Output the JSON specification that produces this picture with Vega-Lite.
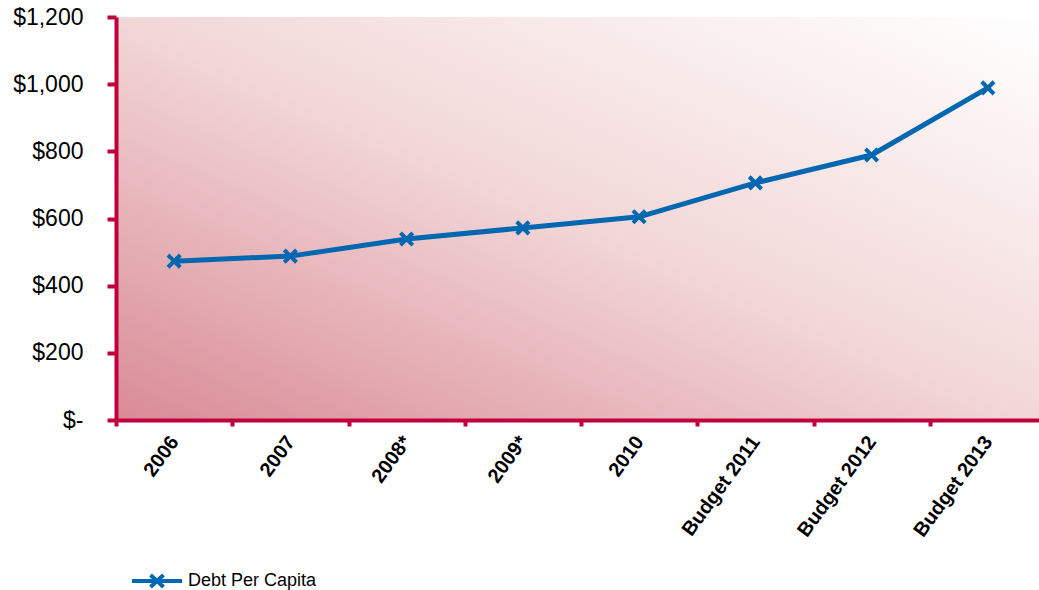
{
  "$schema": "https://vega.github.io/schema/vega-lite/v6.json",
  "width": 923,
  "height": 403,
  "autosize": {"type": "none"},
  "padding": {"left": 116, "top": 17, "right": 0, "bottom": 170},
  "background": "white",
  "config": {
    "view": {"stroke": null},
    "font": "Liberation Sans"
  },
  "data": {
    "values": [
      {"year": "2006", "debt": 473, "series": "Debt Per Capita"},
      {"year": "2007", "debt": 488, "series": "Debt Per Capita"},
      {"year": "2008*", "debt": 539, "series": "Debt Per Capita"},
      {"year": "2009*", "debt": 572, "series": "Debt Per Capita"},
      {"year": "2010", "debt": 605, "series": "Debt Per Capita"},
      {"year": "Budget 2011", "debt": 706, "series": "Debt Per Capita"},
      {"year": "Budget 2012", "debt": 789, "series": "Debt Per Capita"},
      {"year": "Budget 2013", "debt": 989, "series": "Debt Per Capita"}
    ]
  },
  "layer": [
    {
      "data": {"values": [{}]},
      "mark": {
        "type": "rect",
        "color": {
          "gradient": "linear",
          "x1": 0, "y1": 1, "x2": 1, "y2": 0,
          "stops": [
            {"offset": 0, "color": "#d98b97"},
            {"offset": 0.5, "color": "#f2d7d7"},
            {"offset": 1, "color": "#ffffff"}
          ]
        }
      },
      "encoding": {}
    },
    {
      "mark": {"type": "line", "strokeWidth": 5, "strokeJoin": "round"},
      "encoding": {
        "x": {
          "field": "year",
          "type": "nominal",
          "sort": null,
          "scale": {"range": [0, 930]},
          "axis": {
            "title": null,
            "zindex": 1,
            "domainColor": "#c0003a",
            "domainWidth": 4,
            "tickColor": "#c0003a",
            "tickWidth": 4,
            "tickSize": 6,
            "tickBand": "extent",
            "labelAngle": -54,
            "labelFontSize": 20,
            "labelFontWeight": "bold",
            "labelColor": "#000000",
            "labelPadding": 12,
            "grid": false
          }
        },
        "y": {
          "field": "debt",
          "type": "quantitative",
          "scale": {"domain": [0, 1200], "nice": false},
          "axis": {
            "title": null,
            "zindex": 1,
            "values": [0, 200, 400, 600, 800, 1000, 1200],
            "labelExpr": "datum.value == 0 ? '$-\u00a0\u00a0' : format(datum.value, '$,')",
            "domainColor": "#c0003a",
            "domainWidth": 4,
            "tickColor": "#c0003a",
            "tickWidth": 4,
            "tickSize": 9,
            "labelFontSize": 23,
            "labelColor": "#000000",
            "labelPadding": 24,
            "grid": false
          }
        },
        "color": {
          "field": "series",
          "type": "nominal",
          "scale": {"range": ["#0067b0"]},
          "legend": {
            "title": null,
            "orient": "none",
            "legendX": 14,
            "legendY": 537,
            "symbolType": "M-1,0H1M-0.26,-0.24L0.26,0.24M-0.26,0.24L0.26,-0.24",
            "symbolSize": 2500,
            "symbolStrokeWidth": 4,
            "symbolFillColor": "transparent",
            "labelFontSize": 18,
            "labelColor": "#000000",
            "labelOffset": 4
          }
        }
      }
    },
    {
      "mark": {
        "type": "point",
        "shape": "M-1,-1L1,1M-1,1L1,-1",
        "size": 150,
        "filled": false,
        "strokeWidth": 4,
        "opacity": 1
      },
      "encoding": {
        "x": {"field": "year", "type": "nominal", "sort": null},
        "y": {"field": "debt", "type": "quantitative"},
        "color": {"field": "series", "type": "nominal"}
      }
    }
  ]
}
